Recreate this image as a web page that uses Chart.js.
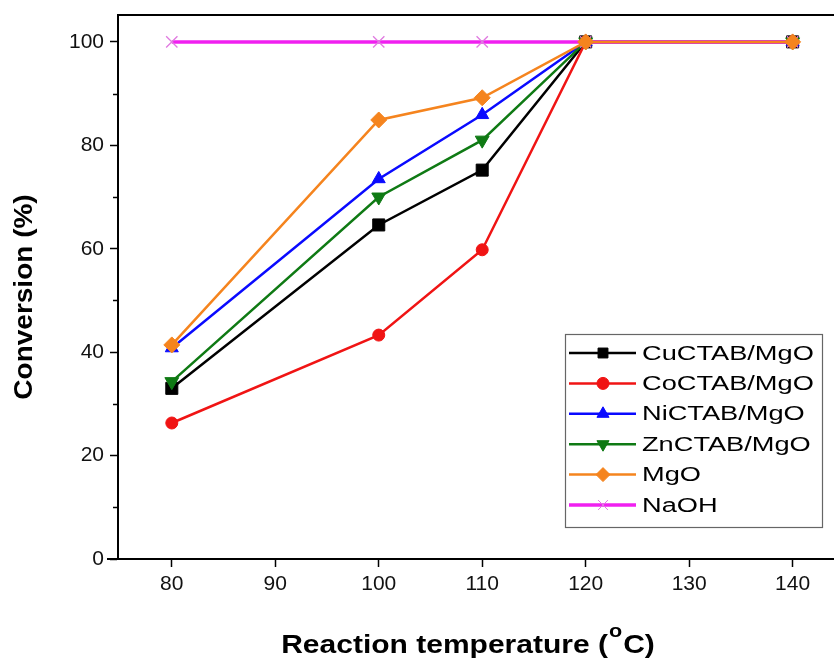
<!DOCTYPE html>
<html>
<head>
<meta charset="utf-8">
<script src="https://cdn.jsdelivr.net/npm/chart.js@4"></script>
<style>
  html,body{margin:0;padding:0;background:#fff;overflow:hidden;}
  #wrap{width:834px;height:666px;position:relative;}
  canvas{display:block;}
</style>
</head>
<body>
<div id="wrap"><canvas id="chart" width="834" height="666"></canvas></div>
<script>
// data
const temps = [80, 100, 110, 120, 140];
const cuCTAB = [33.0, 64.6, 75.2, 100, 100];
const coCTAB = [26.3, 43.3, 59.8, 100, 100];
const niCTAB = [40.8, 73.5, 85.9, 100, 100];
const znCTAB = [34.3, 70.0, 81.0, 100, 100];
const mgO    = [41.4, 84.9, 89.2, 100, 100];
const naOH   = [100, 100, 100, 100, 100];
const xTicks = [80, 90, 100, 110, 120, 130, 140];
const yTicks = [0, 20, 40, 60, 80, 100];
const yMinor = [10, 30, 50, 70, 90];

const FONT = 'Arial, "Liberation Sans", sans-serif';

function pts(vals){ return temps.map((t,i)=>({x:t, y:vals[i]})); }

function ds(label, vals, color, style, r, extra){
  return Object.assign({
    label, data: pts(vals), borderColor: color, backgroundColor: color,
    borderWidth: 2.5, pointStyle: style, pointRadius: r, pointBorderWidth: 1,
    pointBorderColor: color, pointBackgroundColor: color, tension: 0
  }, extra || {});
}

const datasets = [
  ds('CuCTAB/MgO', cuCTAB, '#000000', 'rect', 8.5, {order:5}),
  ds('CoCTAB/MgO', coCTAB, '#f01414', 'circle', 6, {order:4}),
  ds('NiCTAB/MgO', niCTAB, '#0a0aff', 'triangle', 7.5, {order:3}),
  ds('ZnCTAB/MgO', znCTAB, '#0f7a14', 'triangle', 8, {rotation:180, order:2}),
  ds('MgO', mgO, '#f5841e', 'rectRot', 8, {order:0}),
  ds('NaOH', naOH, '#f020f0', 'crossRot', 8, {borderWidth:3.5, pointBorderWidth:1.3, pointBorderColor:'#e07ae0', order:1})
];

// draws text stretched sideways, the way the figure's text looks
function wideText(c, txt, x, y, sx){
  c.save(); c.translate(x, y); c.scale(sx, 1); c.fillText(txt, 0, 0); c.restore();
}

// top border, minor ticks, axis titles, legend
const decor = {
  id: 'decor',
  afterDraw(chart){
    const c = chart.ctx, a = chart.chartArea, y = chart.scales.y;
    c.save();
    c.strokeStyle = '#000'; c.lineWidth = 2;
    c.beginPath(); c.moveTo(a.left, a.top); c.lineTo(a.right, a.top); c.stroke();
    c.lineWidth = 1.5;
    yMinor.forEach(v=>{
      const py = Math.round(y.getPixelForValue(v)) + 0.5;
      c.beginPath(); c.moveTo(a.left - 5, py); c.lineTo(a.left, py); c.stroke();
    });
    c.lineWidth = 2;
    c.beginPath(); c.moveTo(a.left - 11, a.bottom); c.lineTo(a.left, a.bottom); c.stroke();

    c.fillStyle = '#000';
    c.font = 'bold 25px ' + FONT;
    c.textAlign = 'center'; c.textBaseline = 'middle';
    c.save();
    c.translate(25, 297); c.rotate(-Math.PI/2); c.scale(1.12, 1);
    c.fillText('Conversion (%)', 0, 0);
    c.restore();

    // x title with superscript o
    const sx = 1.2;
    const p1 = 'Reaction temperature (', sup = 'o', p2 = 'C)';
    c.font = 'bold 25px ' + FONT;
    const w1 = c.measureText(p1).width * sx, w3 = c.measureText(p2).width * sx;
    c.font = 'bold 18px ' + FONT;
    const w2 = c.measureText(sup).width * sx + 2;
    const x0 = 468 - (w1 + w2 + w3)/2;
    c.textAlign = 'left'; c.textBaseline = 'alphabetic';
    c.font = 'bold 25px ' + FONT;
    wideText(c, p1, x0, 653, sx);
    c.font = 'bold 18px ' + FONT;
    wideText(c, sup, x0 + w1 + 1, 637, sx);
    c.font = 'bold 25px ' + FONT;
    wideText(c, p2, x0 + w1 + w2, 653, sx);

    // legend box
    const lx = 565, ly = 334, lw = 257, lh = 193;
    c.fillStyle = '#fff'; c.fillRect(lx, ly, lw, lh);
    c.strokeStyle = '#666'; c.lineWidth = 1.2;
    c.strokeRect(lx + 0.5, ly + 0.5, lw, lh);
    chart.data.datasets.forEach((d, i)=>{
      const cy = 353 + i * 30.4;
      c.strokeStyle = d.borderColor; c.lineWidth = d.borderWidth;
      c.beginPath(); c.moveTo(569, cy); c.lineTo(636, cy); c.stroke();
      c.fillStyle = d.backgroundColor;
      c.strokeStyle = d.pointBorderColor;
      c.lineWidth = 1;
      Chart.helpers.drawPoint(c, {
        pointStyle: d.pointStyle, rotation: d.rotation || 0,
        radius: Math.min(d.pointRadius, 7), borderWidth: 1
      }, 603, cy);
      c.fillStyle = '#000';
      c.font = '20px ' + FONT;
      c.textBaseline = 'middle'; c.textAlign = 'left';
      wideText(c, d.label, 642, cy + 1, 1.36);
    });
    c.restore();
  }
};

new Chart(document.getElementById('chart'), {
  type: 'line',
  data: { datasets },
  options: {
    responsive: false,
    animation: false,
    layout: { autoPadding: false, padding: { top: 15, right: 0, left: 0, bottom: 0 } },
    plugins: { legend: { display: false }, tooltip: { enabled: false } },
    scales: {
      x: {
        type: 'linear', min: 74.8, max: 144,
        afterBuildTicks: s => { s.ticks = xTicks.map(v=>({value:v})); },
        afterFit: s => { s.height = 107; s.paddingLeft = 0; s.paddingRight = 0; },
        grid: { drawOnChartArea: false, tickLength: 8, tickColor: '#000', tickWidth: 1.5 },
        border: { color: '#000', width: 2 },
        ticks: { color: '#111', font: { family: FONT, size: 21 }, padding: 5, maxRotation: 0 }
      },
      y: {
        type: 'linear', min: 0, max: 105.2,
        afterBuildTicks: s => { s.ticks = yTicks.map(v=>({value:v})); },
        afterFit: s => { s.width = 118; s.paddingTop = 0; s.paddingBottom = 0; },
        grid: { drawOnChartArea: false, tickLength: 8, tickColor: '#000', tickWidth: 1.5 },
        border: { color: '#000', width: 2 },
        ticks: { color: '#111', font: { family: FONT, size: 21 }, padding: 6 }
      }
    }
  },
  plugins: [decor]
});
</script>
</body>
</html>
